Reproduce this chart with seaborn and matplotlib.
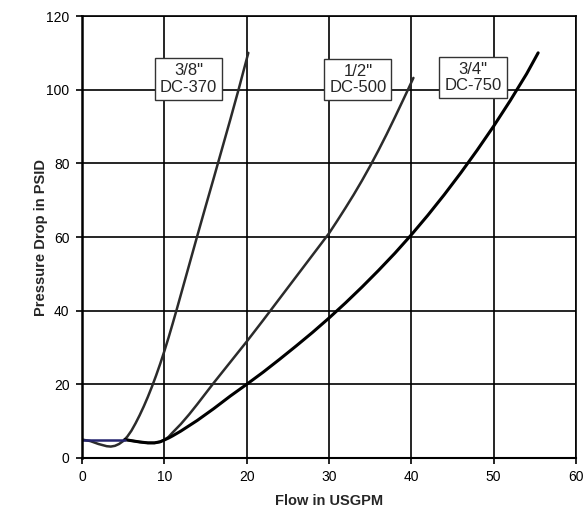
import matplotlib
matplotlib.use("Agg")
import matplotlib.pyplot as plt
import seaborn as sns

# Curves (flow USGPM, pressure drop PSID)
dc370_flow = [0, 1, 2, 3, 3.5, 4, 4.5, 5, 5.5, 6, 6.5, 7, 7.5, 8, 8.5, 9, 9.5,
              10, 10.5, 11, 11.5, 12, 13, 14, 15, 16, 17, 18, 19, 20.2]
dc370_psid = [5, 4.6, 3.8, 3.2, 3.1, 3.3, 3.8, 4.6, 5.8, 7.4, 9.4, 11.6, 14, 16.6, 19.4, 22.4, 25.6,
              29, 32.6, 36.4, 40.3, 44.3, 52.3, 60.3, 68.2, 76, 83.9, 91.8, 99.9, 110]

dc500_flow = [5.2, 6, 7, 8, 8.8, 9.5, 10, 10.5, 11, 12, 13, 14, 15, 16, 17, 18, 19,
              20, 22, 24, 26, 28, 30, 31, 32, 33, 34, 35, 36, 37, 38, 39, 39.65, 40.25]
dc500_psid = [5, 4.7, 4.35, 4.1, 4.1, 4.4, 4.9, 5.7, 6.9, 9.2, 11.8, 14.6, 17.5, 20.4, 23.2, 26, 28.8,
              31.6, 37.4, 43.3, 49.2, 55.1, 61, 64.4, 67.9, 71.5, 75.3, 79.3, 83.5, 87.9, 92.5, 97.2, 100.3, 103.2]

dc750_flow = [5.2, 6, 7, 8, 8.8, 9.5, 10, 10.5, 11, 12, 14, 16, 18, 20, 22, 24, 26, 28,
              30, 32, 34, 36, 38, 40, 42, 44, 46, 48, 50, 52, 54, 55.4]
dc750_psid = [5, 4.7, 4.35, 4.1, 4.1, 4.4, 4.9, 5.4, 6, 7.3, 10.2, 13.4, 16.8, 20, 23.3, 26.8, 30.4, 34.1,
              38, 42.1, 46.4, 50.9, 55.6, 60.6, 65.9, 71.5, 77.4, 83.6, 90.1, 97, 104.3, 110]

base_flow = [0, 5.2]
base_psid = [5, 5]

labels = ['3/8"\nDC-370', '1/2"\nDC-500', '3/4"\nDC-750']
label_x = [12.95, 33.5, 47.5]
label_y = [102.9, 102.8, 103.3]

sns.set_style("white")
plt.rcParams['font.family'] = ['Liberation Sans', 'DejaVu Sans']

fig = plt.figure(figsize=(5.87, 5.15), dpi=100)
ax = fig.add_axes([0.1397, 0.1107, 0.8416, 0.8582])

sns.lineplot(x=dc370_flow, y=dc370_psid, ax=ax, color="#2b2b2b", linewidth=1.8, sort=False, estimator=None)
sns.lineplot(x=dc500_flow, y=dc500_psid, ax=ax, color="#2b2b2b", linewidth=1.8, sort=False, estimator=None)
sns.lineplot(x=dc750_flow, y=dc750_psid, ax=ax, color="black", linewidth=2.2, sort=False, estimator=None)
sns.lineplot(x=base_flow, y=base_psid, ax=ax, color="#24246e", linewidth=1.8, sort=False, estimator=None)

for t, x, y in zip(labels, label_x, label_y):
    ax.text(x, y, t, ha="center", va="center", fontsize=12, linespacing=1.1,
            bbox=dict(boxstyle="square,pad=0.3", facecolor="white", edgecolor="#333333", linewidth=1.0))

ax.set_xlim(0, 60)
ax.set_ylim(0, 120)
ax.set_xticks(range(0, 61, 10))
ax.set_yticks(range(0, 121, 20))
ax.grid(True, color="black", linewidth=1.2)
ax.set_axisbelow(True)
for s in ax.spines.values():
    s.set_color("black")
    s.set_linewidth(1.2)
ax.spines["left"].set_linewidth(1.8)
ax.spines["bottom"].set_linewidth(1.5)
ax.tick_params(axis="both", direction="out", length=4, width=1.2, color="black",
               labelsize=10, labelcolor="black", pad=5, bottom=True, left=True)

ax.set_xlabel("Flow in USGPM", fontsize=10.5, fontweight="bold", labelpad=7)
ax.set_ylabel("Pressure Drop in PSID", fontsize=10.5, fontweight="bold", labelpad=-1)

fig.savefig("out.png", dpi=100)
